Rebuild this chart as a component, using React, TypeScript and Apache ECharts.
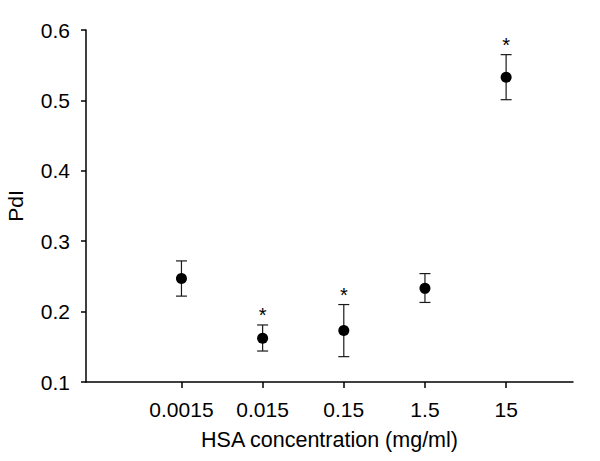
import React, { useEffect, useRef } from "react";
import * as echarts from "echarts";

const concentrations = [0.0015, 0.015, 0.15, 1.5, 15];
const tickLabels = ["0.0015", "0.015", "0.15", "1.5", "15"];
const pdiMean = [0.247, 0.162, 0.173, 0.233, 0.533];
const pdiLow = [0.222, 0.144, 0.136, 0.213, 0.501];
const pdiHigh = [0.272, 0.181, 0.21, 0.254, 0.565];
const significant = [0, 1, 1, 0, 1];
const yTicks = [0.1, 0.2, 0.3, 0.4, 0.5, 0.6];

const FONT = "'Liberation Sans', Arial, Helvetica, sans-serif";

export default function App() {
  const ref = useRef<HTMLDivElement>(null);
  useEffect(() => {
    document.body.style.margin = "0";
    const chart = echarts.init(ref.current!, null, { renderer: "svg" });
    const logX = concentrations.map((c) => Math.log10(c));
    const meanData = logX.map((x, i) => [x, pdiMean[i]]);
    const errData = logX.map((x, i) => [x, pdiLow[i], pdiHigh[i], significant[i]]);
    chart.setOption({
      animation: false,
      backgroundColor: "#ffffff",
      grid: { left: 86, right: 27, top: 30, bottom: 79, containLabel: false, outerBoundsMode: "none" },
      xAxis: {
        type: "value",
        min: -4,
        max: 2,
        name: "HSA concentration (mg/ml)",
        nameLocation: "middle",
        nameGap: 47,
        nameTextStyle: { fontFamily: FONT, fontSize: 21.5, color: "#000" },
        axisLine: { show: true, onZero: false, lineStyle: { color: "#000", width: 1.5 } },
        axisTick: { show: true, customValues: logX, length: 6, lineStyle: { color: "#000", width: 1.5 } },
        axisLabel: {
          customValues: logX,
          margin: 17,
          fontFamily: FONT,
          fontSize: 21,
          color: "#000",
          formatter: (v: number) => {
            const i = logX.findIndex((x) => Math.abs(x - v) < 1e-6);
            return i >= 0 ? tickLabels[i] : "";
          },
        },
        splitLine: { show: false },
      },
      yAxis: {
        type: "value",
        min: yTicks[0],
        max: yTicks[yTicks.length - 1],
        interval: 0.1,
        name: "PdI",
        nameLocation: "middle",
        nameGap: 60,
        nameRotate: 90,
        nameTextStyle: { fontFamily: FONT, fontSize: 21, color: "#000" },
        axisLine: { show: true, onZero: false, lineStyle: { color: "#000", width: 1.5 } },
        axisTick: { show: true, length: 5, lineStyle: { color: "#000", width: 1.5 } },
        axisLabel: {
          margin: 16,
          fontFamily: FONT,
          fontSize: 21,
          color: "#000",
          formatter: (v: number) => v.toFixed(1),
        },
        splitLine: { show: false },
      },
      series: [
        {
          type: "custom",
          data: errData,
          encode: { x: 0, y: [1, 2] },
          z: 1,
          renderItem: (params: any, api: any) => {
            const x = api.value(0);
            const lo = api.value(1);
            const hi = api.value(2);
            const sig = api.value(3);
            const pLo = api.coord([x, lo]);
            const pHi = api.coord([x, hi]);
            const hw = 5.5;
            const stroke = { stroke: "#1a1a1a", lineWidth: 1.2 };
            const children: any[] = [
              { type: "line", shape: { x1: pLo[0], y1: pLo[1], x2: pHi[0], y2: pHi[1] }, style: stroke },
              { type: "line", shape: { x1: pLo[0] - hw, y1: pLo[1], x2: pLo[0] + hw, y2: pLo[1] }, style: stroke },
              { type: "line", shape: { x1: pHi[0] - hw, y1: pHi[1], x2: pHi[0] + hw, y2: pHi[1] }, style: stroke },
            ];
            if (sig) {
              children.push({
                type: "text",
                x: pHi[0],
                y: pHi[1] - 10,
                style: {
                  text: "*",
                  fontFamily: FONT,
                  fontSize: 20,
                  fill: "#000",
                  textAlign: "center",
                  textVerticalAlign: "middle",
                },
              });
            }
            return { type: "group", children };
          },
        },
        {
          type: "scatter",
          data: meanData,
          symbol: "circle",
          symbolSize: 11,
          z: 2,
          itemStyle: { color: "#000", opacity: 1 },
        },
      ],
    });
    return () => chart.dispose();
  }, []);
  return <div ref={ref} style={{ position: "fixed", left: 0, top: 0, width: 600, height: 461 }} />;
}
